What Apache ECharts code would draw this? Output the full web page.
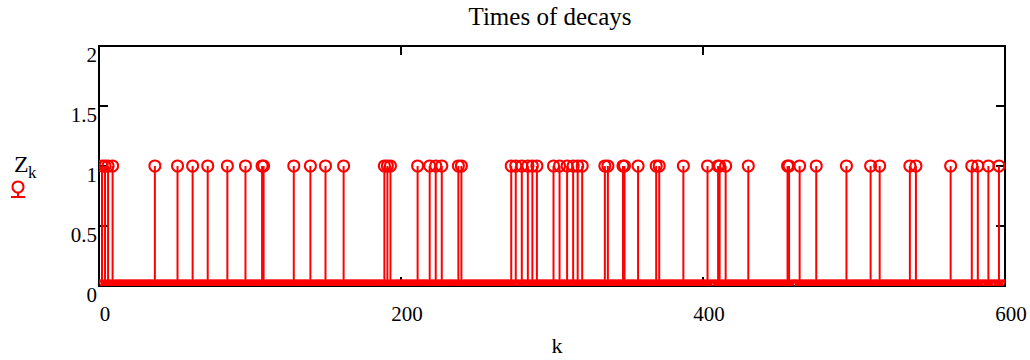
<!DOCTYPE html>
<html><head><meta charset="utf-8">
<script src="https://cdn.jsdelivr.net/npm/echarts@6/dist/echarts.min.js"></script>
<style>html,body{margin:0;padding:0;background:#fff}#c{width:1030px;height:360px}</style>
</head><body><div id="c"></div>
<script>
const chartTitle = 'Times of decays';
const xName = 'k';
const yName = 'Z';
const ySub = 'k';
const kMin = 0;
const kMax = 600;
// indices k at which a decay occurred (Z_k = 1); all other k have Z_k = 0
const decayK = [2, 4, 6, 9, 37, 52, 62, 72, 85, 97, 108, 109, 129, 140, 150, 162,
  189, 191, 193, 211, 219, 223, 227, 238, 240, 273, 276, 280, 284, 287, 290,
  301, 305, 310, 314, 317, 320, 335, 337, 347, 348, 357, 369, 371, 387,
  403, 410, 411, 415, 430, 456, 457, 464, 475, 495, 511, 517, 537, 541,
  564, 578, 582, 589, 596];
const xTicks = [0, 200, 400, 600];
const yTicks = [0, 0.5, 1, 1.5, 2];

const kValues = [];
for (let k = kMin; k <= kMax; k++) kValues.push(k);
const zValues = kValues.map(k => decayK.indexOf(k) >= 0 ? 1 : 0);
const seriesData = kValues.map((k, i) => [k, zValues[i]]);

const RED = '#ff0000';
const SERIF = '"Liberation Serif", "Times New Roman", serif';
const chart = echarts.init(document.getElementById('c'), null, {renderer: 'svg'});
const tickStyle = {inside: true, length: 9, lineStyle: {color: '#000', width: 2}};
const lineStyle = {show: true, onZero: false, lineStyle: {color: '#000', width: 2}};
const xBase = {type: 'value', min: xTicks[0], max: xTicks[xTicks.length - 1], interval: xTicks[1] - xTicks[0], splitLine: {show: false}, axisLine: lineStyle, axisTick: tickStyle};
const yBase = {type: 'value', min: yTicks[0], max: yTicks[yTicks.length - 1], interval: yTicks[1] - yTicks[0], splitLine: {show: false}, axisLine: lineStyle, axisTick: tickStyle};

chart.setOption({
  animation: false,
  backgroundColor: '#fff',
  textStyle: {fontFamily: SERIF, color: '#000'},
  grid: {left: 99, right: 25, top: 46, bottom: 74, show: false, containLabel: false, outerBoundsMode: 'none'},
  xAxis: [
    Object.assign({}, xBase, {
      position: 'bottom',
      name: xName, nameLocation: 'middle', nameGap: 48,
      nameTextStyle: {fontFamily: SERIF, fontSize: 22, color: '#000', padding: [0, 0, 0, 10]},
      axisLabel: {fontFamily: SERIF, fontSize: 21, color: '#000', margin: 17, padding: [0, 0, 0, 12]}
    }),
    Object.assign({}, xBase, {position: 'top', axisLabel: {show: false}})
  ],
  yAxis: [
    Object.assign({}, yBase, {
      position: 'left',
      axisLabel: {fontFamily: SERIF, fontSize: 21, color: '#000', margin: 2, verticalAlign: 'top', padding: [-2, 0, 0, 0]}
    }),
    Object.assign({}, yBase, {position: 'right', axisLabel: {show: false}})
  ],
  graphic: [
    {type: 'text', x: 550, y: 4, style: {text: chartTitle, font: '25px "Liberation Serif"', fill: '#000', textAlign: 'center', textVerticalAlign: 'top'}},
    {type: 'text', x: 14, y: 152, style: {text: yName, font: '24px "Liberation Serif"', fill: '#000', textAlign: 'left', textVerticalAlign: 'top'}},
    {type: 'text', x: 28, y: 164, style: {text: ySub, font: '17px "Liberation Serif"', fill: '#000', textAlign: 'left', textVerticalAlign: 'top'}},
    {type: 'circle', shape: {cx: 18, cy: 187, r: 5.5}, style: {fill: 'none', stroke: RED, lineWidth: 2}},
    {type: 'line', shape: {x1: 18, y1: 192.5, x2: 18, y2: 197}, style: {stroke: RED, lineWidth: 2}},
    {type: 'line', shape: {x1: 11, y1: 197, x2: 25, y2: 197}, style: {stroke: RED, lineWidth: 2}}
  ],
  series: [{
    type: 'custom',
    clip: true,
    xAxisIndex: 0,
    yAxisIndex: 0,
    data: seriesData,
    renderItem: function (params, api) {
      const k = api.value(0), z = api.value(1);
      const p0 = api.coord([k, 0]);
      const p1 = api.coord([k, z]);
      const children = [];
      if (z !== 0) {
        children.push({type: 'line', shape: {x1: p0[0], y1: p0[1], x2: p1[0], y2: p1[1]}, style: {stroke: RED, lineWidth: 2}});
      }
      children.push({type: 'circle', shape: {cx: p1[0], cy: p1[1], r: 5.5}, style: {fill: 'none', stroke: RED, lineWidth: 2}});
      return {type: 'group', children: children};
    }
  }]
});
</script></body></html>
